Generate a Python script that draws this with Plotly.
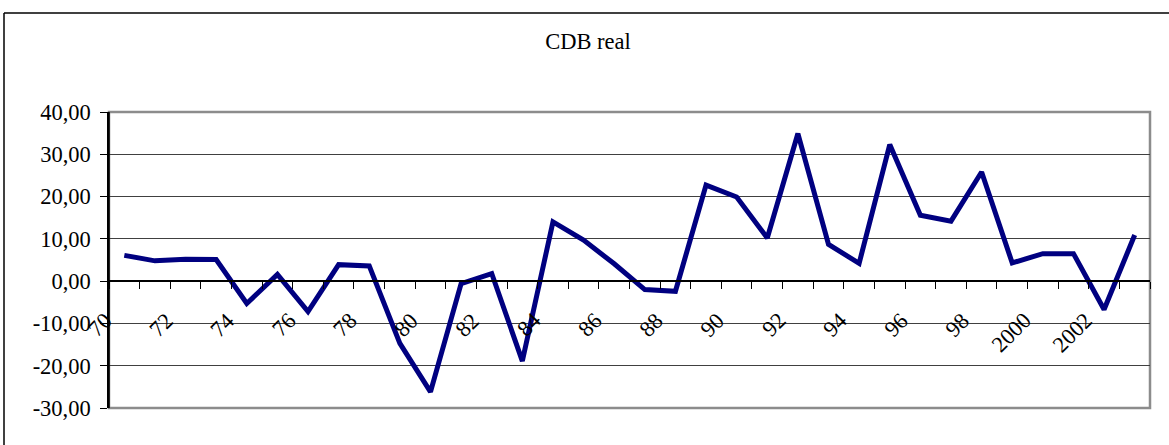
import plotly.graph_objects as go

# CDB real (% a.a.), 1970-2003
years = [str(y) for y in range(1970, 2004)]
cdb_real = [6.1, 4.8, 5.2, 5.1, -5.3, 1.6, -7.2, 3.9, 3.6, -14.7,
            -26.2, -0.6, 1.8, -18.9, 14.0, 9.7, 4.1, -2.0, -2.4, 22.7,
            19.9, 10.2, 34.9, 8.7, 4.2, 32.3, 15.6, 14.2, 25.8, 4.3,
            6.5, 6.5, -6.7, 10.9]
x_labels = ["70", "72", "74", "76", "78", "80", "82", "84", "86", "88",
            "90", "92", "94", "96", "98", "2000", "2002"]
y_ticks = [-30, -20, -10, 0, 10, 20, 30, 40]
y_ticktext = ["-30,00", "-20,00", "-10,00", "0,00", "10,00", "20,00", "30,00", "40,00"]

W, H = 1169, 445
L, R, T, B = 109, 19, 112, 37
pw, ph = W - L - R, H - T - B

FONT = "Liberation Serif"
FS = 22.5
idx = list(range(len(years)))

fig = go.Figure()
fig.add_trace(go.Scatter(
    x=idx, y=cdb_real, mode="lines",
    line=dict(color="#000080", width=5),
    hoverinfo="skip", showlegend=False,
))

ymin, ymax = y_ticks[0], y_ticks[-1]
zero_pos = (0 - ymin) / (ymax - ymin)

fig.update_layout(
    width=W, height=H,
    margin=dict(l=L, r=R, t=T, b=B),
    paper_bgcolor="white", plot_bgcolor="white",
    font=dict(family=FONT, size=FS, color="black"),
    title=dict(text="CDB real", x=588 / W, xanchor="center",
               y=1 - 41 / H, yanchor="middle", yref="container",
               font=dict(family=FONT, size=FS, color="black")),
    xaxis=dict(
        range=[-0.5, len(years) - 0.5], anchor="free", position=zero_pos,
        showgrid=False, zeroline=False,
        showline=True, linecolor="black", linewidth=1.5,
        ticks="outside", ticklen=7, tickcolor="black", tickwidth=1.2,
        tickvals=[i - 0.5 for i in range(len(years) + 1)],
        showticklabels=False,
    ),
    yaxis=dict(
        range=[ymin, ymax], tickvals=y_ticks, ticktext=y_ticktext,
        showgrid=True, gridcolor="#404040", gridwidth=1,
        zeroline=False, showline=True, linecolor="black", linewidth=1.5,
        ticks="outside", ticklen=7, tickcolor="black", tickwidth=1.2,
        ticklabelstandoff=5,
        tickfont=dict(family=FONT, size=FS, color="black"),
    ),
)

# Category labels, every other year, rotated below the zero line
for lab in x_labels:
    full = lab if len(lab) == 4 else "19" + lab
    i = years.index(full)
    fig.add_annotation(
        x=i, y=0, xref="x", yref="y", text=lab, showarrow=False,
        textangle=-45, xanchor="right", yanchor="top",
        xshift=-4, yshift=-24,
        font=dict(family=FONT, size=FS, color="black"),
    )

# Plot area border (grey top, right and bottom)
fig.add_shape(type="rect", xref="paper", yref="paper", x0=0, x1=1, y0=0, y1=1,
              line=dict(color="#8c8c8c", width=2.5), layer="below")
# Redraw left axis in black above the grey border
fig.add_shape(type="line", xref="paper", yref="paper", x0=0, x1=0, y0=0, y1=1,
              line=dict(color="black", width=1.5))

# Outer chart frame
fx0 = (4 - L) / pw
fy1 = (H - B - 13) / ph
fig.add_shape(type="line", xref="paper", yref="paper", x0=fx0, x1=fx0, y0=-0.3, y1=fy1,
              line=dict(color="black", width=1.5))
fig.add_shape(type="line", xref="paper", yref="paper", x0=fx0, x1=1.1, y0=fy1, y1=fy1,
              line=dict(color="black", width=1.5))

fig.write_html("out.html")
